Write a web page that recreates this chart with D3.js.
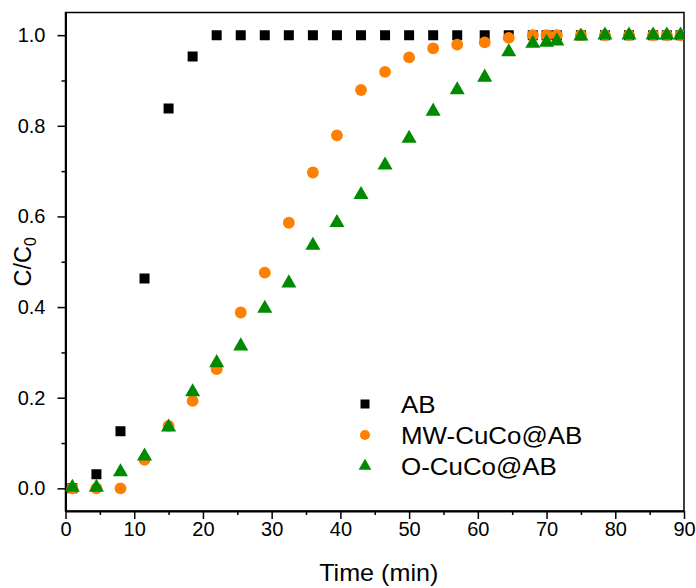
<!DOCTYPE html>
<html>
<head>
<meta charset="utf-8">
<script src="https://cdn.jsdelivr.net/npm/d3@7"></script>
<style>
  html, body { margin: 0; padding: 0; background: #fff; }
  svg { display: block; font-family: Arial, "Liberation Sans", sans-serif; }
</style>
</head>
<body>
<svg id="chart" width="696" height="588"></svg>
<script>
// ---- data ----
const times = [1, 4.5, 8, 11.5, 15, 18.5, 22, 25.5, 29, 32.5, 36, 39.5, 43, 46.5, 50, 53.5, 57, 61, 64.5, 68, 70, 71.5, 75, 78.5, 82, 85.5, 87.5, 89.5];
const seriesAB = [0, 0.031, 0.126, 0.463, 0.838, 0.953, 1, 1, 1, 1, 1, 1, 1, 1, 1, 1, 1, 1, 1, 1, 1, 1, 1, 1, 1, 1, 1, 1];
const seriesMW = [0, 0, 0, 0.063, 0.138, 0.193, 0.263, 0.388, 0.476, 0.586, 0.697, 0.779, 0.879, 0.919, 0.951, 0.971, 0.979, 0.984, 0.994, 1, 1, 1, 1, 1, 1, 1, 1, 1];
const seriesO = [0.002, 0.002, 0.036, 0.071, 0.135, 0.213, 0.277, 0.314, 0.397, 0.453, 0.536, 0.586, 0.648, 0.713, 0.772, 0.832, 0.879, 0.907, 0.963, 0.982, 0.984, 0.987, 0.998, 1.0, 1.0, 1.0, 1.0, 1.0];
const seriesNames = ["AB", "MW-CuCo@AB", "O-CuCo@AB"];
const xTicks = [0, 10, 20, 30, 40, 50, 60, 70, 80, 90];
const yTicks = [0.0, 0.2, 0.4, 0.6, 0.8, 1.0];

// ---- layout ----
const svg = d3.select("#chart");
const L = 65.5, R = 684, T = 12.5, B = 511;
const x = d3.scaleLinear().domain([0, 90]).range([L, R]);
const y = d3.scaleLinear().domain([-0.05, 1.05]).range([B, T]);

const series = [
  { name: seriesNames[0], values: seriesAB, color: "#000000", symbol: d3.symbolSquare, size: 100, lsize: 81 },
  { name: seriesNames[1], values: seriesMW, color: "#ff8000", symbol: d3.symbolCircle, size: 110, lsize: 80 },
  { name: seriesNames[2], values: seriesO, color: "#008a00", symbol: d3.symbolTriangle, size: 98, lsize: 70 }
];

svg.append("defs").append("clipPath").attr("id", "clip")
  .append("rect").attr("x", L).attr("y", T).attr("width", R - L).attr("height", B - T);

// frame
svg.append("rect").attr("x", L).attr("y", T).attr("width", R - L).attr("height", B - T)
  .attr("fill", "none").attr("stroke", "#000").attr("stroke-width", 1.5);

// x axis
const xAxis = d3.axisBottom(x).tickValues(xTicks).tickSize(8).tickSizeOuter(0).tickFormat(d3.format("d")).tickPadding(3);
const gx = svg.append("g").attr("transform", `translate(0,${B})`).call(xAxis);
gx.select(".domain").attr("stroke-width", 2);
gx.selectAll(".tick line").attr("stroke-width", 1.5);
gx.selectAll(".tick text").attr("font-size", 20).attr("font-family", "Arial, 'Liberation Sans', sans-serif").attr("fill", "#000");
const xMinor = d3.axisBottom(x).tickValues(d3.range(5, 90, 10)).tickSize(4).tickSizeOuter(0).tickFormat("");
svg.append("g").attr("transform", `translate(0,${B})`).call(xMinor)
  .call(g => g.select(".domain").remove())
  .selectAll(".tick line").attr("stroke-width", 1.5);

// y axis
const yAxis = d3.axisLeft(y).tickValues(yTicks).tickSize(8).tickSizeOuter(0).tickFormat(d3.format(".1f")).tickPadding(12);
const gy = svg.append("g").attr("transform", `translate(${L},0)`).call(yAxis);
gy.select(".domain").attr("stroke-width", 2);
gy.selectAll(".tick line").attr("stroke-width", 1.5);
gy.selectAll(".tick text").attr("font-size", 20).attr("font-family", "Arial, 'Liberation Sans', sans-serif").attr("fill", "#000");
const yMinor = d3.axisLeft(y).tickValues([0.1, 0.3, 0.5, 0.7, 0.9]).tickSize(4).tickSizeOuter(0).tickFormat("");
svg.append("g").attr("transform", `translate(${L},0)`).call(yMinor)
  .call(g => g.select(".domain").remove())
  .selectAll(".tick line").attr("stroke-width", 1.5);

// points
const plot = svg.append("g").attr("clip-path", "url(#clip)");
series.forEach(s => {
  plot.append("g").selectAll("path")
    .data(s.values.map((v, i) => [times[i], v]))
    .join("path")
    .attr("transform", d => `translate(${x(d[0])},${y(d[1])})`)
    .attr("d", d3.symbol().type(s.symbol).size(s.size))
    .attr("fill", s.color);
});

// legend
const leg = svg.append("g");
series.forEach((s, i) => {
  const cy = 404 + i * 31;
  leg.append("path")
    .attr("transform", `translate(365,${cy})`)
    .attr("d", d3.symbol().type(s.symbol).size(s.lsize))
    .attr("fill", s.color);
  leg.append("text").attr("transform", `translate(401,${cy + 9}) scale(1.08,1)`)
    .attr("font-size", 24).attr("fill", "#000").text(s.name);
});

// axis titles
svg.append("text").attr("transform", `translate(${(L + R) / 2 + 4},581) scale(1.07,1)`)
  .attr("text-anchor", "middle").attr("font-size", 23.5).text("Time (min)");
const yt = svg.append("text").attr("transform", `translate(31,${(T + B) / 2}) rotate(-90)`)
  .attr("text-anchor", "middle").attr("font-size", 23.5);
yt.append("tspan").text("C/C");
yt.append("tspan").attr("font-size", 16).attr("dy", 5).text("0");
</script>
</body>
</html>
